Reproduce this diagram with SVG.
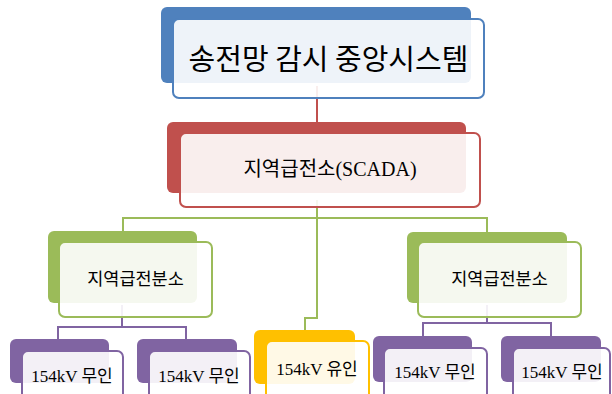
<svg xmlns="http://www.w3.org/2000/svg" width="612" height="394" viewBox="0 0 612 394">
<style>
  .front { fill: #ffffff; fill-opacity: 0.9; stroke-width: 2; }
  .conn { fill: none; stroke-width: 2; }
  .t { font-family: "Liberation Serif", "Noto Sans CJK KR", serif; fill: #000000; text-anchor: middle; }
  .k { font-family: "Noto Sans CJK KR", sans-serif; fill: #000000; text-anchor: middle; }
  .blue { fill: #4F81BD; } .blueS { stroke: #4F81BD; }
  .red { fill: #C0504D; } .redS { stroke: #C0504D; }
  .green { fill: #9BBB59; } .greenS { stroke: #9BBB59; }
  .purple { fill: #8064A2; } .purpleS { stroke: #8064A2; }
  .yellow { fill: #FFC000; } .yellowS { stroke: #FFC000; }
</style>
<rect width="612" height="394" fill="#ffffff"/>
<g id="connectors">
  <path class="conn redS" d="M317 86 V122"/>
  <path class="conn greenS" d="M317 200 V318 H305 V330"/>
  <path class="conn greenS" d="M123 232 V218 H487 V232"/>
  <path class="conn purpleS" d="M122 305 V327"/>
  <path class="conn purpleS" d="M58 339 V327 H186 V339"/>
  <path class="conn purpleS" d="M487 305 V323"/>
  <path class="conn purpleS" d="M423 336 V323 H551 V336"/>
</g>
<g id="node-top">
  <rect class="blue" x="161" y="7" width="310" height="76" rx="6"/>
  <rect class="front blueS" x="173" y="19" width="311" height="79" rx="6"/>
  <text class="k" x="328.5" y="70" font-size="29">송전망 감시 중앙시스템</text>
</g>
<g id="node-scada">
  <rect class="red" x="167" y="122" width="299" height="71" rx="6"/>
  <rect class="front redS" x="180" y="133" width="300" height="74" rx="6"/>
  <text class="t" x="330" y="176" font-size="20">지역급전소(SCADA)</text>
</g>
<g id="node-branch-left">
  <rect class="green" x="48" y="231" width="149" height="72" rx="6"/>
  <rect class="front greenS" x="59" y="242" width="153" height="75" rx="6"/>
  <text class="k" x="135.5" y="285" font-size="17.5">지역급전분소</text>
</g>
<g id="node-branch-right">
  <rect class="green" x="407" y="232" width="160" height="71" rx="6"/>
  <rect class="front greenS" x="418" y="242" width="163" height="75" rx="6"/>
  <text class="k" x="499.5" y="285" font-size="17.5">지역급전분소</text>
</g>
<g id="node-l1">
  <rect class="purple" x="10" y="339" width="99" height="44" rx="6"/>
  <rect class="front purpleS" x="22" y="351" width="101" height="60" rx="6"/>
  <text class="t" x="72" y="382" font-size="17">154kV 무인</text>
</g>
<g id="node-l2">
  <rect class="purple" x="137" y="339" width="100" height="44" rx="6"/>
  <rect class="front purpleS" x="149" y="351" width="101" height="60" rx="6"/>
  <text class="t" x="199" y="382" font-size="17">154kV 무인</text>
</g>
<g id="node-manned">
  <rect class="yellow" x="254" y="330" width="101" height="54" rx="6"/>
  <rect class="front yellowS" x="266" y="341" width="103" height="70" rx="6"/>
  <text class="t" x="317" y="375" font-size="17">154kV 유인</text>
</g>
<g id="node-r1">
  <rect class="purple" x="373" y="336" width="99" height="46" rx="6"/>
  <rect class="front purpleS" x="384" y="348" width="103" height="60" rx="6"/>
  <text class="t" x="435" y="378" font-size="17">154kV 무인</text>
</g>
<g id="node-r2">
  <rect class="purple" x="501" y="336" width="100" height="46" rx="6"/>
  <rect class="front purpleS" x="513" y="348" width="97" height="60" rx="6"/>
  <text class="t" x="562" y="378" font-size="17">154kV 무인</text>
</g>
</svg>
